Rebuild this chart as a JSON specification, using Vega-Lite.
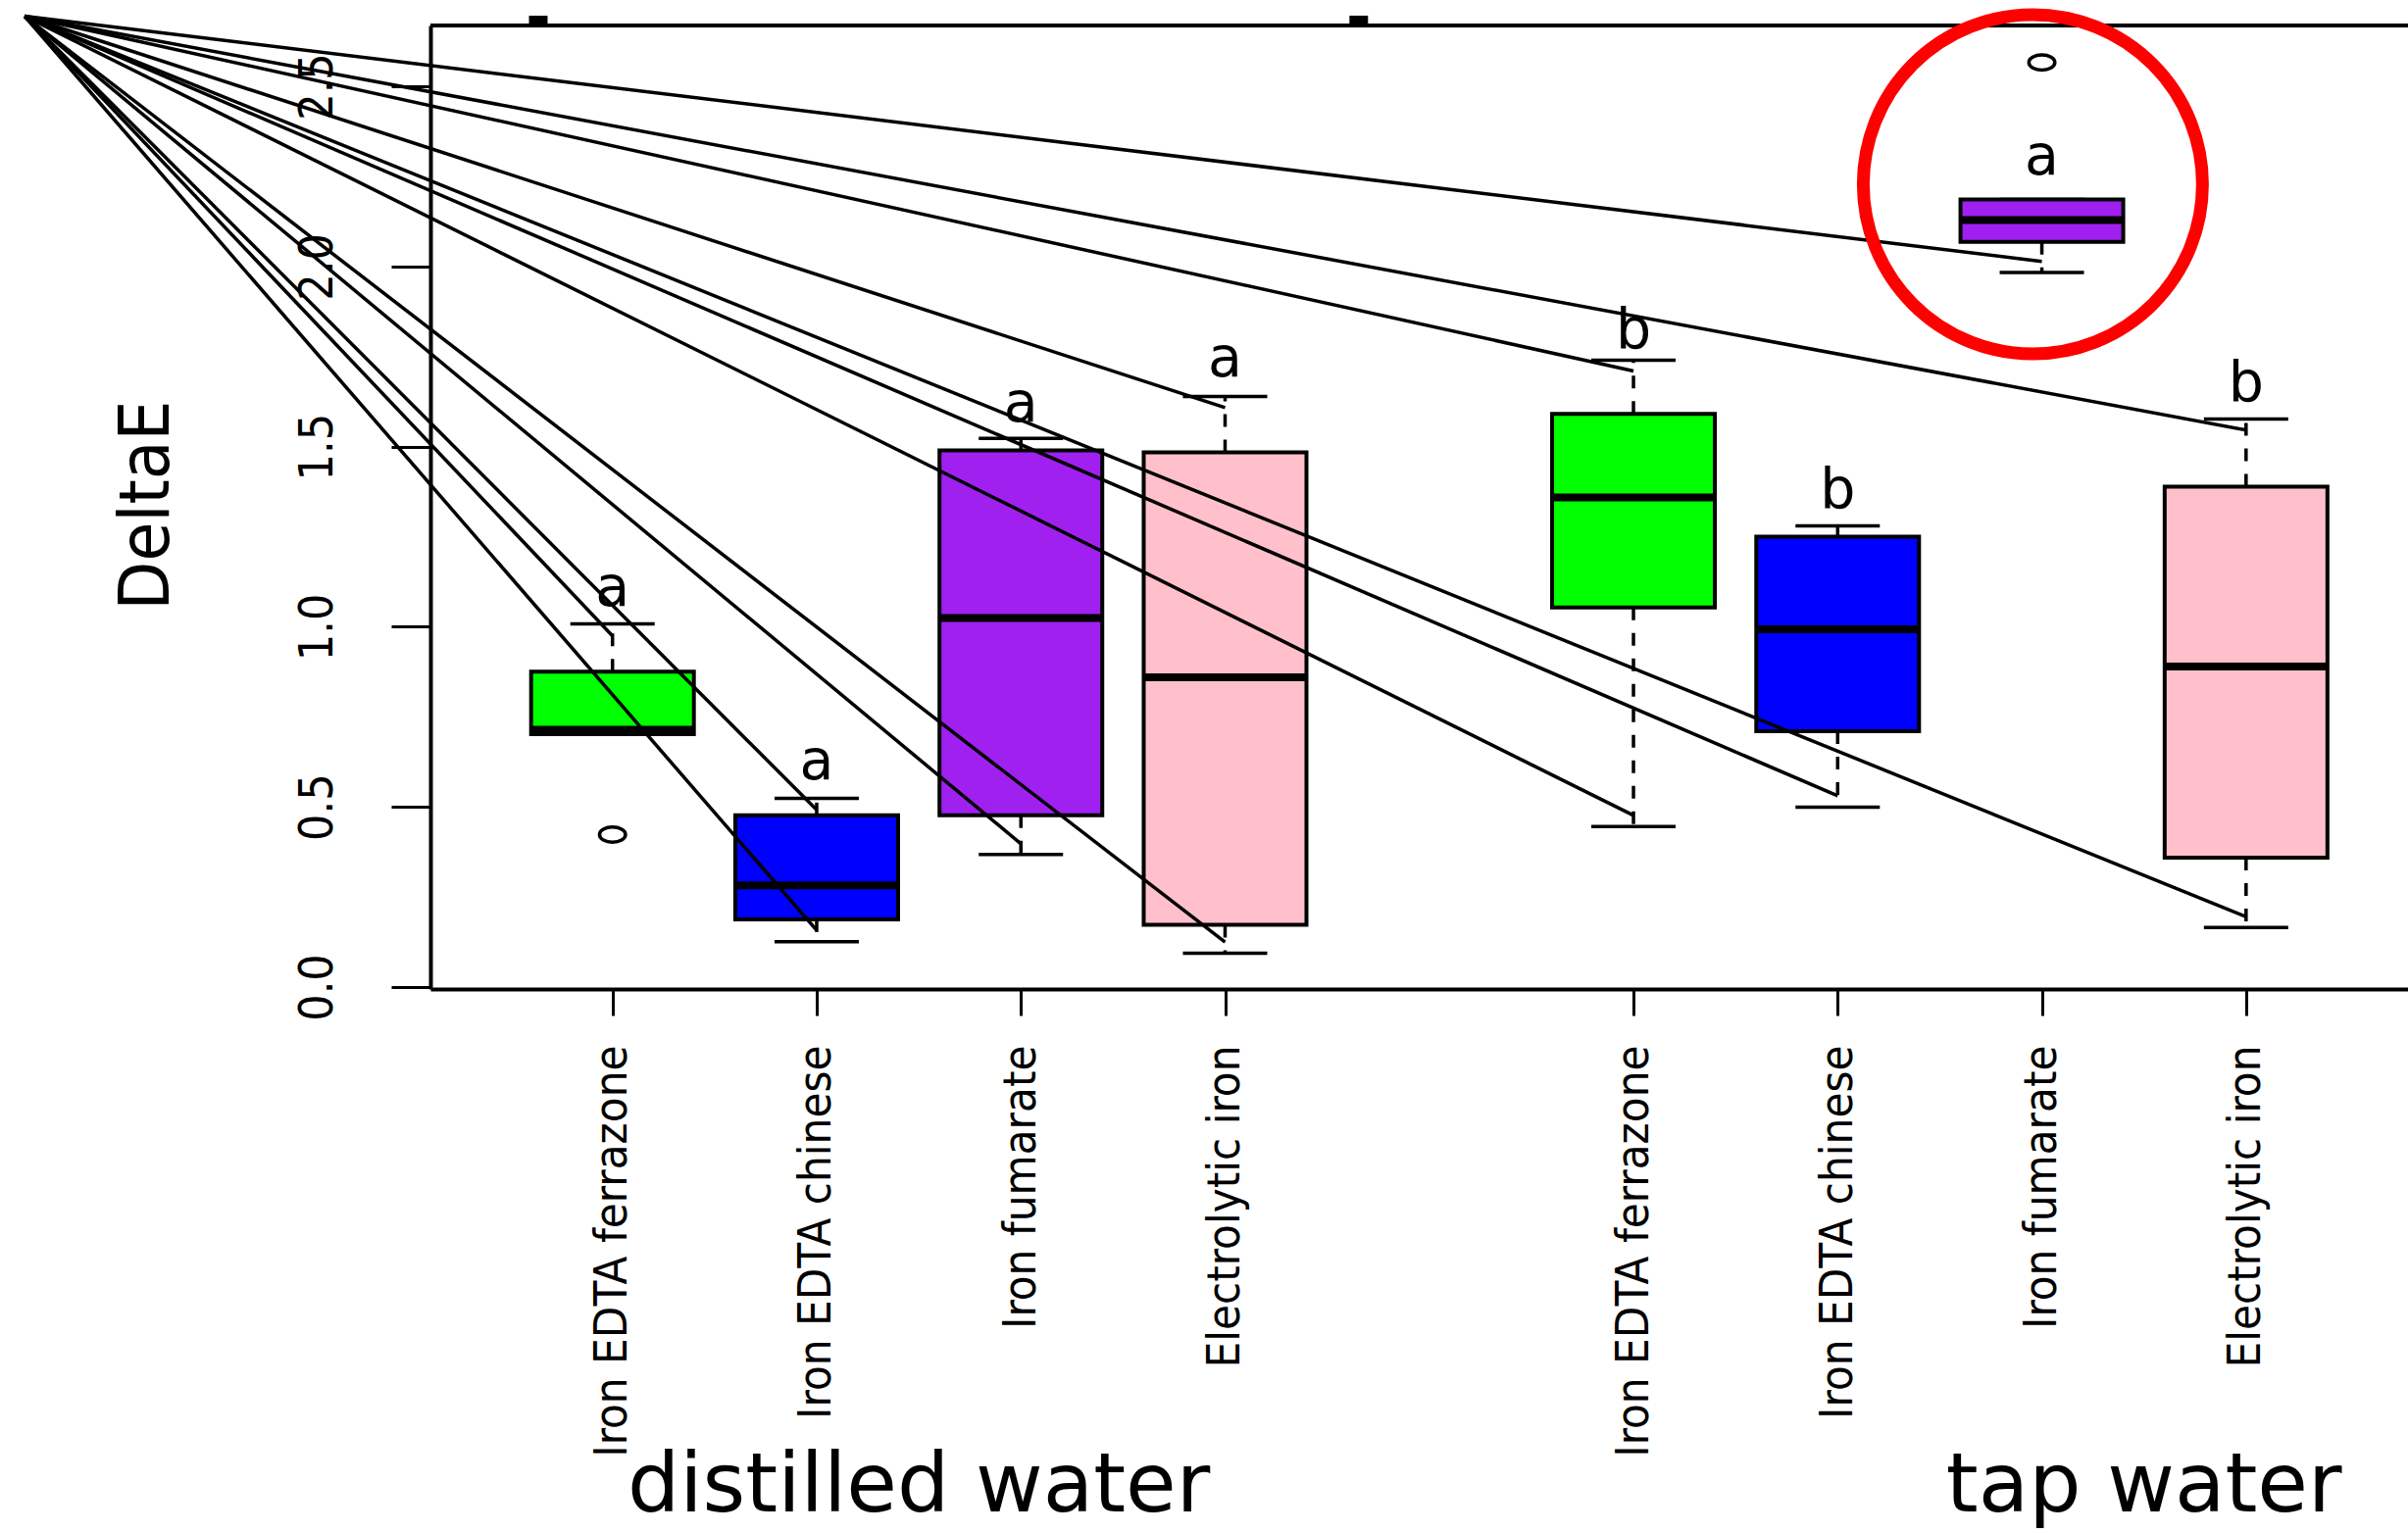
{
  "$schema": "https://vega.github.io/schema/vega-lite/v6.json",
  "autosize": {"type": "none"},
  "padding": {"left": 439, "top": 26, "right": 0, "bottom": 555},
  "width": 2017,
  "height": 983,
  "background": "white",
  "config": {"view": {"stroke": null}},
  "resolve": {"axis": {"x": "independent", "y": "independent"}},
  "datasets": {
    "boxes": [
      {"group": "distilled water", "compound": "Iron EDTA ferrazone", "pos": 1, "lower": 0.702, "q1": 0.702, "median": 0.714, "q3": 0.875, "upper": 1.008, "letter": "a", "lettery": 1.059},
      {"group": "distilled water", "compound": "Iron EDTA chinese", "pos": 2, "lower": 0.126, "q1": 0.188, "median": 0.282, "q3": 0.4765, "upper": 0.5235, "letter": "a", "lettery": 0.578},
      {"group": "distilled water", "compound": "Iron fumarate", "pos": 3, "lower": 0.368, "q1": 0.4765, "median": 1.024, "q3": 1.4895, "upper": 1.523, "letter": "a", "lettery": 1.571},
      {"group": "distilled water", "compound": "Electrolytic iron", "pos": 4, "lower": 0.094, "q1": 0.173, "median": 0.86, "q3": 1.484, "upper": 1.639, "letter": "a", "lettery": 1.694},
      {"group": "tap water", "compound": "Iron EDTA ferrazone", "pos": 6, "lower": 0.4455, "q1": 1.0536, "median": 1.3587, "q3": 1.591, "upper": 1.7395, "letter": "b", "lettery": 1.775},
      {"group": "tap water", "compound": "Iron EDTA chinese", "pos": 7, "lower": 0.4993, "q1": 0.71, "median": 0.9927, "q3": 1.25, "upper": 1.2798, "letter": "b", "lettery": 1.329},
      {"group": "tap water", "compound": "Iron fumarate", "pos": 8, "lower": 1.983, "q1": 2.068, "median": 2.129, "q3": 2.186, "upper": 2.186, "letter": "a", "lettery": 2.256},
      {"group": "tap water", "compound": "Electrolytic iron", "pos": 9, "lower": 0.1654, "q1": 0.3593, "median": 0.8896, "q3": 1.3887, "upper": 1.5766, "letter": "b", "lettery": 1.626}
    ],
    "outliers": [
      {"pos": 1, "value": 0.423},
      {"pos": 8, "value": 2.566}
    ],
    "rays": [
      {"sx": -1.879, "sy": 2.6945, "ex": 8, "ey": 2.014},
      {"sx": -1.879, "sy": 2.6945, "ex": 9, "ey": 1.546},
      {"sx": -1.879, "sy": 2.6945, "ex": 6, "ey": 1.71},
      {"sx": -1.879, "sy": 2.6945, "ex": 6, "ey": 0.4766},
      {"sx": -1.879, "sy": 2.6945, "ex": 7, "ey": 0.5307},
      {"sx": -1.879, "sy": 2.6945, "ex": 9, "ey": 0.1953},
      {"sx": -1.879, "sy": 2.6945, "ex": 4, "ey": 1.608},
      {"sx": -1.879, "sy": 2.6945, "ex": 3, "ey": 0.3977},
      {"sx": -1.879, "sy": 2.6945, "ex": 4, "ey": 0.1251},
      {"sx": -1.879, "sy": 2.6945, "ex": 2, "ey": 0.4916},
      {"sx": -1.879, "sy": 2.6945, "ex": 2, "ey": 0.1572},
      {"sx": -1.879, "sy": 2.6945, "ex": 1, "ey": 0.9747}
    ],
    "topmarks": [
      {"x": 0.591, "x2": 0.682, "y": 2.6687, "y2": 2.696},
      {"x": 4.609, "x2": 4.7, "y": 2.6687, "y2": 2.696}
    ],
    "frame": [{"top": 2.6687}],
    "highlight": [
      {"pos": 7.956, "value": 2.228}
    ],
    "groups": [
      {"text": "distilled water", "pos": 2.5, "ty": -1.455},
      {"text": "tap water", "pos": 8.5, "ty": -1.455}
    ]
  },
  "layer": [
    {
      "data": {"name": "boxes"},
      "mark": {"type": "rule", "strokeDash": [13, 13], "strokeWidth": 3.5, "color": "black"},
      "encoding": {
        "x": {"field": "pos", "type": "quantitative", "scale": {"domain": [0.1323, 9.7691], "nice": false, "zero": false},
          "axis": {
            "values": [1, 2, 3, 4, 6, 7, 8, 9],
            "labelExpr": "['', 'Iron EDTA ferrazone', 'Iron EDTA chinese', 'Iron fumarate', 'Electrolytic iron', '', 'Iron EDTA ferrazone', 'Iron EDTA chinese', 'Iron fumarate', 'Electrolytic iron'][datum.value]",
            "labelAngle": 270, "labelAlign": "right", "labelBaseline": "middle",
            "labelPadding": 30, "tickSize": 27, "tickWidth": 3, "tickColor": "black",
            "labelFont": "DejaVu Sans Condensed, Liberation Sans, sans-serif", "labelFontSize": 47, "labelColor": "black", "labelLimit": 0,
            "domainColor": "black", "domainWidth": 4, "grid": false,
            "labelFlush": false, "labelOverlap": false, "title": null
          }
        },
        "y": {"field": "q3", "type": "quantitative", "scale": {"domain": [-0.0054, 2.6687], "nice": false, "zero": false},
          "axis": {
            "values": [0, 0.5, 1, 1.5, 2, 2.5], "format": ".1f",
            "labelAngle": 270, "labelAlign": "center", "labelBaseline": "alphabetic",
            "labelPadding": 61, "tickSize": 40, "tickWidth": 3, "tickColor": "black",
            "labelFont": "DejaVu Sans Condensed, Liberation Sans, sans-serif", "labelFontSize": 48, "labelColor": "black", "labelLimit": 0,
            "domainColor": "black", "domainWidth": 4, "grid": false,
            "labelFlush": false, "labelOverlap": false,
            "title": "DeltaE", "titleFont": "DejaVu Sans Condensed, Liberation Sans, sans-serif", "titleFontSize": 72, "titleFontWeight": "normal", "titleColor": "black",
            "titleAngle": 270, "titleAlign": "center", "titleBaseline": "alphabetic", "titleX": -268, "titleY": 489
          }
        },
        "y2": {"field": "upper"}
      }
    },
    {
      "data": {"name": "boxes"},
      "mark": {"type": "rule", "strokeDash": [13, 13], "strokeWidth": 3.5, "color": "black"},
      "encoding": {
        "x": {"field": "pos", "type": "quantitative", "scale": {"domain": [0.1323, 9.7691], "nice": false, "zero": false}, "axis": null},
        "y": {"field": "q1", "type": "quantitative", "scale": {"domain": [-0.0054, 2.6687], "nice": false, "zero": false}, "axis": null},
        "y2": {"field": "lower"}
      }
    },
    {
      "data": {"name": "boxes"},
      "mark": {"type": "tick", "orient": "horizontal", "size": 86, "thickness": 3.5, "color": "black", "opacity": 1},
      "encoding": {
        "x": {"field": "pos", "type": "quantitative", "scale": {"domain": [0.1323, 9.7691], "nice": false, "zero": false}, "axis": null},
        "y": {"field": "upper", "type": "quantitative", "scale": {"domain": [-0.0054, 2.6687], "nice": false, "zero": false}, "axis": null}
      }
    },
    {
      "data": {"name": "boxes"},
      "mark": {"type": "tick", "orient": "horizontal", "size": 86, "thickness": 3.5, "color": "black", "opacity": 1},
      "encoding": {
        "x": {"field": "pos", "type": "quantitative", "scale": {"domain": [0.1323, 9.7691], "nice": false, "zero": false}, "axis": null},
        "y": {"field": "lower", "type": "quantitative", "scale": {"domain": [-0.0054, 2.6687], "nice": false, "zero": false}, "axis": null}
      }
    },
    {
      "data": {"name": "boxes"},
      "mark": {"type": "bar", "width": 166, "stroke": "black", "strokeWidth": 4, "opacity": 1},
      "encoding": {
        "x": {"field": "pos", "type": "quantitative", "scale": {"domain": [0.1323, 9.7691], "nice": false, "zero": false}, "axis": null},
        "y": {"field": "q1", "type": "quantitative", "scale": {"domain": [-0.0054, 2.6687], "nice": false, "zero": false}, "axis": null},
        "y2": {"field": "q3"},
        "color": {"field": "compound", "type": "nominal",
          "scale": {"domain": ["Iron EDTA ferrazone", "Iron EDTA chinese", "Iron fumarate", "Electrolytic iron"], "range": ["#00FF00", "#0000FF", "#A020F0", "#FFC0CB"]},
          "legend": null}
      }
    },
    {
      "data": {"name": "boxes"},
      "mark": {"type": "tick", "orient": "horizontal", "size": 164, "thickness": 8, "color": "black", "opacity": 1},
      "encoding": {
        "x": {"field": "pos", "type": "quantitative", "scale": {"domain": [0.1323, 9.7691], "nice": false, "zero": false}, "axis": null},
        "y": {"field": "median", "type": "quantitative", "scale": {"domain": [-0.0054, 2.6687], "nice": false, "zero": false}, "axis": null}
      }
    },
    {
      "data": {"name": "outliers"},
      "mark": {"type": "point", "shape": "M-1,0C-1,-0.3203,-0.5523,-0.58,0,-0.58C0.5523,-0.58,1,-0.3203,1,0C1,0.3203,0.5523,0.58,0,0.58C-0.5523,0.58,-1,0.3203,-1,0Z", "size": 702, "filled": false, "color": "black", "strokeWidth": 3.5, "opacity": 1},
      "encoding": {
        "x": {"field": "pos", "type": "quantitative", "scale": {"domain": [0.1323, 9.7691], "nice": false, "zero": false}, "axis": null},
        "y": {"field": "value", "type": "quantitative", "scale": {"domain": [-0.0054, 2.6687], "nice": false, "zero": false}, "axis": null}
      }
    },
    {
      "data": {"name": "boxes"},
      "mark": {"type": "text", "font": "DejaVu Sans", "fontSize": 57, "color": "black", "align": "center", "baseline": "alphabetic"},
      "encoding": {
        "x": {"field": "pos", "type": "quantitative", "scale": {"domain": [0.1323, 9.7691], "nice": false, "zero": false}, "axis": null},
        "y": {"field": "lettery", "type": "quantitative", "scale": {"domain": [-0.0054, 2.6687], "nice": false, "zero": false}, "axis": null},
        "text": {"field": "letter", "type": "nominal"}
      }
    },
    {
      "data": {"name": "groups"},
      "mark": {"type": "text", "font": "DejaVu Sans", "fontSize": 84, "color": "black", "align": "center", "baseline": "alphabetic"},
      "encoding": {
        "x": {"field": "pos", "type": "quantitative", "scale": {"domain": [0.1323, 9.7691], "nice": false, "zero": false}, "axis": null},
        "y": {"field": "ty", "type": "quantitative", "scale": {"domain": [-0.0054, 2.6687], "nice": false, "zero": false}, "axis": null},
        "text": {"field": "text", "type": "nominal"}
      }
    },
    {
      "data": {"name": "topmarks"},
      "mark": {"type": "rect", "color": "black", "opacity": 1},
      "encoding": {
        "x": {"field": "x", "type": "quantitative", "scale": {"domain": [0.1323, 9.7691], "nice": false, "zero": false}, "axis": null},
        "x2": {"field": "x2"},
        "y": {"field": "y", "type": "quantitative", "scale": {"domain": [-0.0054, 2.6687], "nice": false, "zero": false}, "axis": null},
        "y2": {"field": "y2"}
      }
    },
    {
      "data": {"name": "rays"},
      "mark": {"type": "rule", "strokeWidth": 3.5, "color": "black"},
      "encoding": {
        "x": {"field": "sx", "type": "quantitative", "scale": {"domain": [0.1323, 9.7691], "nice": false, "zero": false}, "axis": null},
        "y": {"field": "sy", "type": "quantitative", "scale": {"domain": [-0.0054, 2.6687], "nice": false, "zero": false}, "axis": null},
        "x2": {"field": "ex"},
        "y2": {"field": "ey"}
      }
    },
    {
      "data": {"name": "frame"},
      "mark": {"type": "rule", "strokeWidth": 4, "color": "black"},
      "encoding": {
        "y": {"field": "top", "type": "quantitative", "scale": {"domain": [-0.0054, 2.6687], "nice": false, "zero": false}, "axis": null}
      }
    },
    {
      "data": {"name": "highlight"},
      "mark": {"type": "point", "shape": "circle", "size": 119716, "filled": false, "color": "#FF0000", "strokeWidth": 13, "opacity": 1},
      "encoding": {
        "x": {"field": "pos", "type": "quantitative", "scale": {"domain": [0.1323, 9.7691], "nice": false, "zero": false}, "axis": null},
        "y": {"field": "value", "type": "quantitative", "scale": {"domain": [-0.0054, 2.6687], "nice": false, "zero": false}, "axis": null}
      }
    }
  ]
}
